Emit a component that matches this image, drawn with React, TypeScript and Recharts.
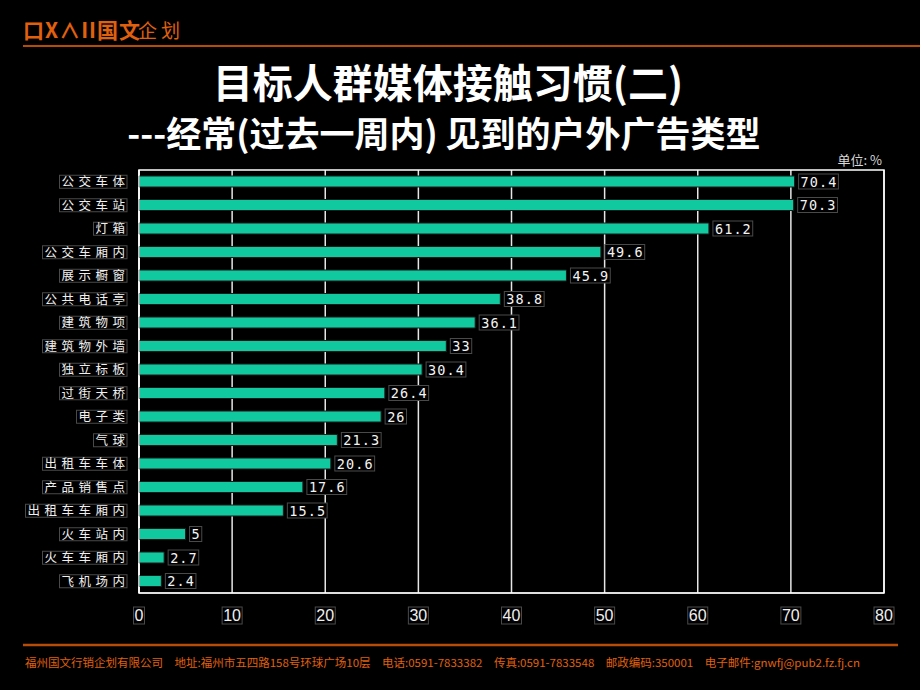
import React from 'react';
import { BarChart, Bar, XAxis, YAxis, CartesianGrid, LabelList, ReferenceArea } from 'recharts';

const categories = ['公交车体','公交车站','灯箱','公交车厢内','展示橱窗','公共电话亭','建筑物项','建筑物外墙','独立标板','过街天桥','电子类','气球','出租车车体','产品销售点','出租车车厢内','火车站内','火车车厢内','飞机场内'];
const values = [70.4,70.3,61.2,49.6,45.9,38.8,36.1,33,30.4,26.4,26,21.3,20.6,17.6,15.5,5,2.7,2.4];
const xTicks = [0,10,20,30,40,50,60,70,80];

const data = categories.map((c, i) => ({ name: c, value: values[i] }));

const ORANGE = '#e0600e';
const BOXSTROKE = '#4a4a4a';

const YTick = (props: any) => {
  const { x, y, payload } = props;
  const s = String(payload.value);
  const fs = 12.5, ls = 4.5;
  const w = s.length * (fs + ls) - ls + 4;
  const right = x;
  return (
    <g>
      <rect x={right - w} y={y - 6.5} width={w} height={13} fill="#000" stroke={BOXSTROKE} strokeWidth={1} />
      <text x={right - w + 2} y={y + 4.5} fill="#f0f0f0" fontSize={fs} letterSpacing={ls} fontFamily="'Noto Sans CJK SC', sans-serif">{s}</text>
    </g>
  );
};

const XTick = (props: any) => {
  const { x, y, payload } = props;
  const s = String(payload.value);
  const w = s.length * 9 + 2;
  return (
    <g>
      <rect x={x - w / 2} y={y + 6} width={w} height={17} fill="#000" stroke={BOXSTROKE} strokeWidth={1} />
      <text x={x} y={y + 20} fill="#f0f0f0" fontSize={16} textAnchor="middle" fontFamily="'Liberation Sans', Arial, sans-serif">{s}</text>
    </g>
  );
};

const ValueLabel = (props: any) => {
  const { x, y, width, height, value } = props;
  const s = String(value);
  const pitch = 9.2;
  const w = s.length * pitch + 3;
  const bx = x + width + 4;
  const cy = y + height / 2;
  return (
    <g>
      <rect x={bx} y={cy - 7.5} width={w} height={15} fill="#000" stroke={BOXSTROKE} strokeWidth={1} />
      <text x={bx + 2} y={cy + 5} fill="#f4f4f4" fontSize={13.5} letterSpacing={1.1} fontFamily="'DejaVu Sans Mono', monospace">{s}</text>
    </g>
  );
};

export default function App() {
  return (
    <div style={{ position: 'absolute', left: 0, top: 0, width: 920, height: 690, background: '#000', overflow: 'hidden' }}>
      <svg width={920} height={690} style={{ position: 'absolute', left: 0, top: 0 }}>
        <text x={23} y={38} fill={ORANGE} fontSize={21} fontWeight={700} fontFamily="'Noto Sans CJK SC', sans-serif" letterSpacing={1}>口X∧II国文</text>
        <text x={138} y={38} fill={ORANGE} fontSize={19} fontFamily="'Noto Sans CJK SC', sans-serif" letterSpacing={4}>企划</text>
        <line x1={23} y1={46} x2={920} y2={46} stroke="#b84c06" strokeWidth={2} />
        <text x={448} y={98} fill="#fff" fontSize={40} fontWeight={700} textAnchor="middle" fontFamily="'Noto Sans CJK SC', sans-serif">目标人群媒体接触习惯(二)</text>
        <text x={444} y={147} fill="#fff" fontSize={35} fontWeight={700} textAnchor="middle" fontFamily="'Noto Sans CJK SC', sans-serif">---经常(过去一周内) 见到的户外广告类型</text>
        <text x={882} y={165} fill="#d8d8d8" fontSize={13} textAnchor="end" fontFamily="'Noto Sans CJK SC', sans-serif">单位: %</text>
        <line x1={23} y1={645} x2={898} y2={645} stroke="#b84c06" strokeWidth={2.5} />
        <text x={25} y={667} fill={ORANGE} fontSize={11} textLength={835} lengthAdjust="spacingAndGlyphs" fontFamily="'Noto Sans CJK SC', serif">福州国文行销企划有限公司　地址:福州市五四路158号环球广场10层　电话:0591-7833382　传真:0591-7833548　邮政编码:350001　电子邮件:gnwfj@pub2.fz.fj.cn</text>
      </svg>
      <div style={{ position: 'absolute', left: 0, top: 0 }}>
        <BarChart layout="vertical" width={920} height={690} data={data} margin={{ top: 170, right: 36, bottom: 0, left: 0 }}>
          <CartesianGrid horizontal={false} vertical stroke="#e6e6e6" strokeWidth={1.5} />
          <XAxis type="number" domain={[0, 80]} ticks={xTicks} interval={0} height={97} axisLine={{ stroke: '#fff' }} tickLine={false} tick={<XTick />} />
          <YAxis type="category" dataKey="name" width={139} interval={0} axisLine={{ stroke: '#fff' }} tickLine={false} tickMargin={6} tick={<YTick />} />
          <ReferenceArea x1={0} x2={80} fill="none" stroke="#fff" strokeWidth={1.5} ifOverflow="visible" />
          <Bar dataKey="value" fill="#10c99e" stroke="#1a1a1a" strokeWidth={1} barSize={11} isAnimationActive={false}>
            <LabelList dataKey="value" content={<ValueLabel />} />
          </Bar>
        </BarChart>
      </div>
    </div>
  );
}
